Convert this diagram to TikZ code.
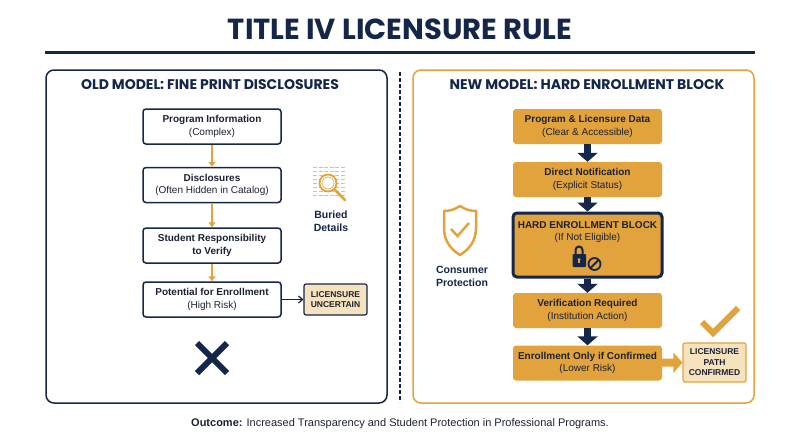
\documentclass[tikz,border=0pt]{standalone}
\usepackage{fontspec}
\setmainfont{Liberation Sans}
\newfontfamily\headfont{Poppins}
\usetikzlibrary{arrows.meta}
\definecolor{navy}{HTML}{14264A}
\definecolor{ink}{HTML}{1C2233}
\definecolor{gold}{HTML}{E2A23C}
\definecolor{sand}{HTML}{F7E2BE}
\tikzset{
  oldbox/.style={draw=navy, line width=1.5pt, fill=white, rounded corners=3pt,
    minimum width=138pt, minimum height=35pt, align=center, text=ink,
    font=\fontsize{10}{12.5}\selectfont},
  newbox/.style={fill=gold, rounded corners=3pt, minimum width=149pt,
    minimum height=35pt, align=center, text=ink,
    font=\fontsize{10}{12.5}\selectfont},
  tagbox/.style={draw=#1, line width=1.2pt, fill=sand, rounded corners=2pt,
    align=center, text=ink, font=\fontsize{8.5}{10.5}\selectfont\bfseries},
  heading/.style={text=navy, font=\headfont\bfseries\fontsize{14}{16}\selectfont},
  iconlabel/.style={text=navy, align=center, font=\fontsize{10.5}{13}\selectfont\bfseries},
  thinarrow/.style={gold, line width=1.3pt, -{Triangle[length=5pt,width=7pt]}},
  blockarrow/.style={navy, line width=7pt, -{Triangle[length=9pt,width=20pt]}},
}
\begin{document}
\begin{tikzpicture}[x=1pt,y=-1pt]
\useasboundingbox[fill=white] (0,0) rectangle (800,447);
% title
\node[text=navy, font=\headfont\bfseries\fontsize{29}{32}\selectfont] (title) at (400,29) {TITLE IV LICENSURE RULE};
\draw[navy, line width=3pt] (45,52) -- (755,52);
% panels
\draw[navy, line width=1.5pt, rounded corners=8pt] (46,70) rectangle (387,403);
\draw[gold, line width=1.5pt, rounded corners=8pt] (413,70) rectangle (754,403);
\draw[navy, line width=1.5pt, dash pattern=on 4pt off 2pt] (400,72) -- (400,402);
\node[heading] (oldhead) at (210,85) {OLD MODEL: FINE PRINT DISCLOSURES};
\node[heading] (newhead) at (587,85) {NEW MODEL: HARD ENROLLMENT BLOCK};

% old model
\node[oldbox] (p1) at (212,126.5) {{\bfseries Program Information}\\(Complex)};
\node[oldbox] (p2) at (212,185) {{\bfseries Disclosures}\\(Often Hidden in Catalog)};
\node[oldbox] (p3) at (212,245.5) {\bfseries Student Responsibility\\\bfseries to Verify};
\node[oldbox] (p4) at (212,299.5) {{\bfseries Potential for Enrollment}\\(High Risk)};
\node[tagbox=navy, minimum width=63pt, minimum height=31pt] (unc) at (335.5,299.5) {LICENSURE\\UNCERTAIN};
\draw[thinarrow] (p1) -- (p2);
\draw[thinarrow] (p2) -- (p3);
\draw[thinarrow] (p3) -- (p4);
\draw[navy, line width=1.2pt, -{Straight Barb[length=4pt,width=7pt]}] (p4) -- (unc);
% buried details icon
\foreach \y in {167,171,...,195}
  \draw[gold!70, line width=1pt, dash pattern=on 4pt off 1.5pt] (313,\y) -- (345,\y);
\draw[gold, line width=2.6pt, line cap=round] (334.5,189.5) -- (345,200);
\draw[gold, line width=1.8pt, fill=white] (328,183) circle (8.5);
\draw[gold!80, line width=0.8pt] (328,183) circle (6);
\node[iconlabel] (buried) at (331,221) {Buried\\Details};
% cross
\draw[navy, line width=6pt] (197,343) -- (227,373);
\draw[navy, line width=6pt] (197,373) -- (227,343);

% new model
\node[newbox] (r1) at (587.5,126.5) {{\bfseries Program \& Licensure Data}\\(Clear \& Accessible)};
\node[newbox] (r2) at (587.5,179.5) {{\bfseries Direct Notification}\\(Explicit Status)};
\node[newbox, draw=navy, line width=3pt, rounded corners=4pt, minimum height=64pt] (r3) at (587.5,245) {};
\node[text=ink, align=center, font=\fontsize{10}{12.5}\selectfont] (r3text) at (587.5,232) {{\bfseries HARD ENROLLMENT BLOCK}\\(If Not Eligible)};
\node[newbox] (r4) at (587.5,310.5) {{\bfseries Verification Required}\\(Institution Action)};
\node[newbox] (r5) at (587.5,363) {{\bfseries Enrollment Only if Confirmed}\\(Lower Risk)};
\node[tagbox=gold, minimum width=63pt, minimum height=39pt] (conf) at (714.5,362.5) {LICENSURE\\PATH\\CONFIRMED};
\draw[blockarrow] (r1) -- (r2);
\draw[blockarrow] (r2) -- (r3);
\draw[blockarrow] (r3) -- (r4);
\draw[blockarrow] (r4) -- (r5);
\draw[gold, line width=8pt, -{Triangle[length=9pt,width=20pt]}] (r5) -- (conf);
% lock icon
\draw[navy, line width=2pt] (575.5,255) -- (575.5,250) arc[start angle=180, end angle=360, radius=3.5] -- (582.5,255);
\fill[navy, rounded corners=1pt] (572.5,254) rectangle (586,267);
\fill[gold] (579,259.5) circle (1.5);
\fill[gold] (578.4,259.5) rectangle (579.6,263);
\draw[navy, line width=1.8pt, fill=gold] (594.5,264) circle (6);
\draw[navy, line width=1.8pt] (598.7,259.8) -- (590.3,268.2);
% shield icon
\draw[gold, line width=2.5pt, line join=round] (460,206) .. controls (466,210) and (471,211) .. (476,211)
  -- (476,228) .. controls (476,242) and (468,250) .. (460,255)
  .. controls (452,250) and (444,242) .. (444,228) -- (444,211)
  .. controls (449,211) and (454,210) .. (460,206) -- cycle;
\draw[gold, line width=2.5pt] (451,229) -- (457.5,236) -- (469,223);
\node[iconlabel] (protect) at (462,276.5) {Consumer\\Protection};
% check mark
\draw[gold, line width=6pt] (702,322) -- (713,333) -- (738,308);

% footer
\node[text=ink, font=\fontsize{11}{13}\selectfont] (outcome) at (400,424) {{\bfseries Outcome:} Increased Transparency and Student Protection in Professional Programs.};
\end{tikzpicture}
\end{document}
